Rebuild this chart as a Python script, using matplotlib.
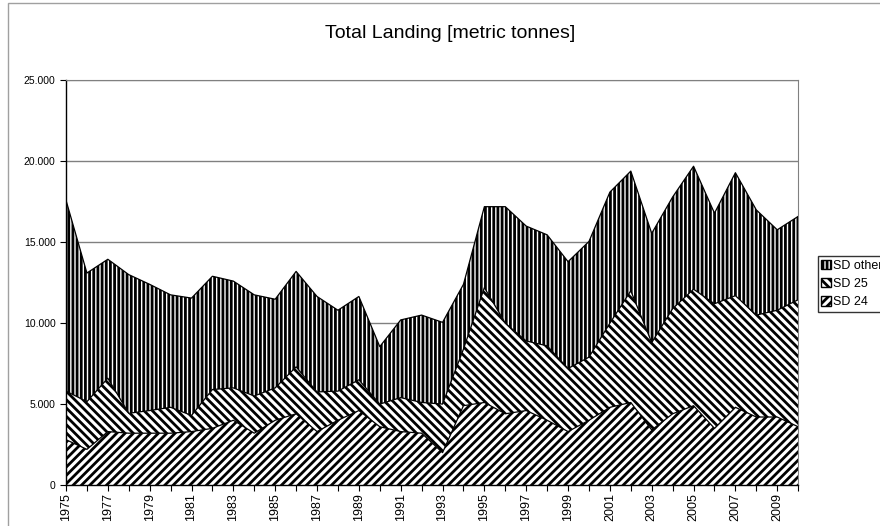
import matplotlib
matplotlib.use("Agg")
import matplotlib.pyplot as plt
from matplotlib.patches import Rectangle, Patch
from matplotlib.ticker import FuncFormatter, MultipleLocator
import numpy as np

plt.rcParams["font.family"] = ["Liberation Sans", "DejaVu Sans"]
plt.rcParams["hatch.linewidth"] = 2.0

# landings per year, tonnes
years = list(range(1975, 2011))
sd24 = [2800, 2200, 3300, 3200, 3200, 3200, 3300, 3500, 4000, 3200, 4000, 4400,
        3300, 4000, 4600, 3600, 3300, 3200, 2000, 4900, 5100, 4400, 4600, 4000,
        3300, 4000, 4800, 5100, 3400, 4400, 4900, 3500, 4800, 4200, 4200, 3600]
sd25 = [3000, 2950, 3300, 1230, 1400, 1600, 1000, 2400, 2000, 2300, 2000, 2900,
        2450, 1800, 1900, 1400, 2100, 1900, 3000, 3500, 7100, 5600, 4300, 4600,
        3900, 3900, 5200, 6900, 5400, 6500, 7200, 7700, 6900, 6300, 6600, 7850]
sd_other = [11800, 7950, 7350, 8570, 7800, 6950, 7250, 7000, 6600, 6250, 5480, 5900,
            5900, 5000, 5150, 3550, 4800, 5400, 5050, 4000, 5000, 7200, 7100, 6860,
            6600, 7150, 8100, 7400, 6750, 6900, 7600, 5600, 7600, 6500, 4970, 5150]

series = [("SD 24", sd24, "////"), ("SD 25", sd25, "\\\\\\\\"), ("SD other", sd_other, "||||")]


def main():
    fig = plt.figure(figsize=(8.8, 5.26), dpi=100)
    ax = fig.add_axes([0.075, 0.078, 0.832, 0.769])

    x = np.array(years)
    base = np.zeros(len(x))
    for name, vals, hatch in series:
        top = base + np.array(vals)
        ax.fill_between(x, base, top, facecolor="white", edgecolor="black",
                        hatch=hatch, linewidth=0, zorder=2)
        ax.plot(x, top, color="black", lw=0.9, zorder=3)
        base = top

    ax.set_xlim(1975, 2010)
    ax.set_ylim(0, 25000)
    ax.yaxis.set_major_locator(MultipleLocator(5000))
    ax.yaxis.set_major_formatter(FuncFormatter(lambda v, p: f"{int(v):,}".replace(",", ".")))
    ax.set_xticks(years[::2])
    ax.set_xticks(years, minor=True)
    ax.set_xticklabels([str(y) for y in years[::2]], rotation=90)
    ax.tick_params(axis="both", direction="out", length=4, width=0.8)
    ax.tick_params(axis="y", labelsize=7.5, colors="black")
    ax.tick_params(axis="x", labelsize=9, pad=2)
    ax.tick_params(axis="x", which="minor", length=4, width=0.8)
    ax.grid(axis="y", color="#808080", lw=1.0, zorder=1)
    for s in ("top", "right"):
        ax.spines[s].set_color("#808080")
    for s in ("left", "bottom"):
        ax.spines[s].set_color("black")
        ax.spines[s].set_linewidth(1.0)
    ax.spines["bottom"].set_zorder(4)

    fig.text(0.512, 0.937, "Total Landing [metric tonnes]", ha="center", va="center",
             fontsize=14)

    handles = [Patch(facecolor="white", edgecolor="black", hatch=h, label=n)
               for n, _, h in reversed(series)]
    fig.legend(handles=handles, loc="center left", bbox_to_anchor=(0.929, 0.46),
               fontsize=9, frameon=True, fancybox=False, edgecolor="black",
               handlelength=0.75, handleheight=0.75, handletextpad=0.2,
               borderpad=0.3, labelspacing=0.5, borderaxespad=0)

    # chart border
    fig.patches.append(Rectangle((8 / 880, -0.1), 1.2, 1.1 - 3 / 526, transform=fig.transFigure,
                                 fill=False, edgecolor="#a0a0a0", lw=1.0))

    fig.savefig("out.png", dpi=100)


if __name__ == "__main__":
    main()
